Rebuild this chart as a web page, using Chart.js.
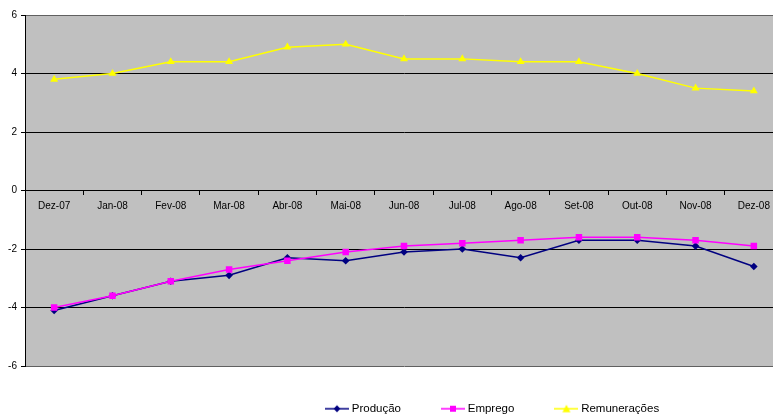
<!DOCTYPE html>
<html><head><meta charset="utf-8">
<script src="https://cdn.jsdelivr.net/npm/chart.js@4/dist/chart.umd.min.js"></script>
<style>html,body{margin:0;padding:0;overflow:hidden;background:#fff;width:773px;height:414px}#wrap{width:790px;height:414px}</style>
</head><body><div id="wrap"><canvas id="c" width="790" height="414"></canvas></div>
<script>
const categories = ['Dez-07','Jan-08','Fev-08','Mar-08','Abr-08','Mai-08','Jun-08','Jul-08','Ago-08','Set-08','Out-08','Nov-08','Dez-08'];
const producao = [-4.1, -3.6, -3.1, -2.9, -2.3, -2.4, -2.1, -2.0, -2.3, -1.7, -1.7, -1.9, -2.6];
const emprego = [-4.0, -3.6, -3.1, -2.7, -2.4, -2.1, -1.9, -1.8, -1.7, -1.6, -1.6, -1.7, -1.9];
const remuneracoes = [3.8, 4.0, 4.4, 4.4, 4.9, 5.0, 4.5, 4.5, 4.4, 4.4, 4.0, 3.5, 3.4];
const yTicks = [-6, -4, -2, 0, 2, 4, 6];
const seriesNames = ['Produção', 'Emprego', 'Remunerações'];

const FONT = 'Arial, "Liberation Sans", sans-serif';

function legendImage(color, style) {
  const cv = document.createElement('canvas');
  cv.width = 24; cv.height = 10;
  const g = cv.getContext('2d');
  g.strokeStyle = color; g.lineWidth = 1.5;
  g.beginPath(); g.moveTo(0, 5); g.lineTo(24, 5); g.stroke();
  g.fillStyle = color;
  g.beginPath();
  if (style === 'diamond') { g.moveTo(12, 1.5); g.lineTo(15.5, 5); g.lineTo(12, 8.5); g.lineTo(8.5, 5); }
  else if (style === 'square') { g.rect(9, 2, 6, 6); }
  else { g.moveTo(12, 1); g.lineTo(16, 8.5); g.lineTo(8, 8.5); }
  g.closePath(); g.fill();
  return cv;
}
const legendImgs = [legendImage('#000080','diamond'), legendImage('#FF00FF','square'), legendImage('#FFFF00','triangle')];

const bgPlugin = {
  id: 'bg',
  beforeDraw(chart) {
    const a = chart.chartArea, ctx = chart.ctx;
    ctx.save(); ctx.fillStyle = '#C0C0C0';
    ctx.fillRect(a.left, a.top, a.right - a.left, a.bottom - a.top);
    ctx.restore();
  },
  afterLayout(chart) {
    const lg = chart.legend;
    if (lg) { lg.left = 285; lg.right = 790; lg.top = 360; lg.bottom = 414; }
  }
};

new Chart(document.getElementById('c'), {
  type: 'line',
  data: {
    labels: categories,
    datasets: [
      { label: seriesNames[0], data: producao, borderColor: '#000080', backgroundColor: '#000080', borderWidth: 1.5, pointStyle: 'rectRot', pointRadius: 3.8, pointBorderWidth: 0, tension: 0, order: 1 },
      { label: seriesNames[1], data: emprego, borderColor: '#FF00FF', backgroundColor: '#FF00FF', borderWidth: 1.5, pointStyle: 'rect', pointRadius: 4.6, pointBorderWidth: 0, tension: 0, order: 0 },
      { label: seriesNames[2], data: remuneracoes, borderColor: '#FFFF00', backgroundColor: '#FFFF00', borderWidth: 1.5, pointStyle: 'triangle', pointRadius: 4.6, pointBorderWidth: 0, tension: 0, order: 2 }
    ]
  },
  options: {
    responsive: false,
    animation: false,
    layout: { padding: { left: 0, right: 7, top: 15, bottom: 0 } },
    plugins: {
      tooltip: { enabled: false },
      legend: {
        position: 'bottom',
        align: 'start',
        maxHeight: 48,
        labels: {
          usePointStyle: true,
          pointStyleWidth: 18,
          padding: 43,
          color: '#000',
          font: { family: FONT, size: 11.5 },
          generateLabels() {
            return seriesNames.map((n, i) => ({ text: n, pointStyle: legendImgs[i], fillStyle: 'transparent', strokeStyle: 'transparent', lineWidth: 0, hidden: false, datasetIndex: i, fontColor: '#000' }));
          }
        }
      }
    },
    scales: {
      x: {
        type: 'category',
        position: { y: 0 },
        offset: true,
        grid: { offset: true, drawOnChartArea: false, drawTicks: true, tickLength: 4, color: '#000' },
        border: { display: true, color: '#000', width: 1 },
        ticks: { color: '#000', font: { family: FONT, size: 10 }, padding: 6, maxRotation: 0, autoSkip: false }
      },
      y: {
        min: -6, max: 6,
        afterFit(s) { s.width = 25; },
        afterBuildTicks(s) { s.ticks = yTicks.map(v => ({ value: v })); },
        grid: { color: (c) => (c.tick && (c.tick.value === 6 || c.tick.value === -6)) ? '#606060' : '#000', tickLength: 4, tickColor: '#000', lineWidth: 1 },
        border: { display: true, color: '#000', width: 1 },
        ticks: { color: '#000', font: { family: FONT, size: 10 }, padding: 4 }
      }
    }
  },
  plugins: [bgPlugin]
});
</script>
</body></html>
